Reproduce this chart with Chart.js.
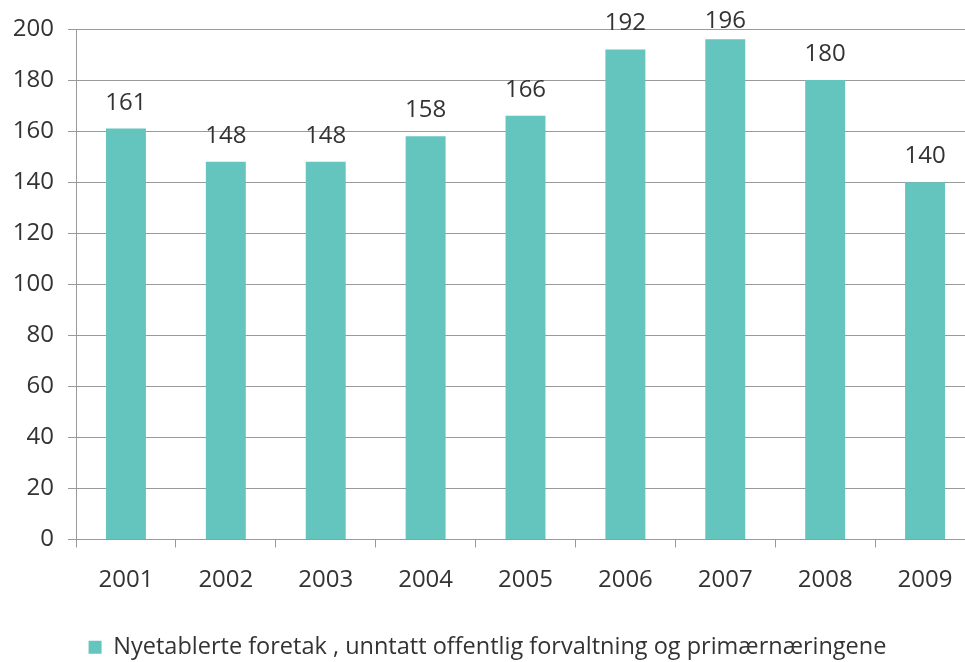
<!DOCTYPE html>
<html>
<head>
<meta charset="utf-8">
<script src="https://cdn.jsdelivr.net/npm/chart.js@4/dist/chart.umd.min.js"></script>
<style>
html,body{margin:0;padding:0;overflow:hidden;background:#fff;}
#wrap{width:975px;height:662px;position:relative;}
</style>
</head>
<body>
<div id="wrap"><canvas id="c" width="975" height="662"></canvas></div>
<script>
const categories = ["2001","2002","2003","2004","2005","2006","2007","2008","2009"];
const seriesName = "Nyetablerte foretak , unntatt offentlig forvaltning og primærnæringene";
const values = [161,148,148,158,166,192,196,180,140];
const yTicks = [0,20,40,60,80,100,120,140,160,180,200];

const FONT = "'Open Sans', sans-serif";
const TXT = "#333333";
const BAR = "#64C5BE";
const GRID = "#9a9a9a";

const labelPlugin = {
  id: 'barLabels',
  afterDatasetsDraw(chart) {
    const ctx = chart.ctx;
    const meta = chart.getDatasetMeta(0);
    ctx.save();
    ctx.font = "24px " + FONT;
    ctx.fillStyle = TXT;
    ctx.textAlign = 'center';
    ctx.textBaseline = 'alphabetic';
    const minBase = chart.chartArea.top - 1;
    meta.data.forEach((bar, i) => {
      let base = Math.max(bar.y - 19, minBase);
      ctx.fillText(String(values[i]), bar.x, base);
    });
    ctx.restore();
  }
};

new Chart(document.getElementById('c'), {
  type: 'bar',
  data: {
    labels: categories,
    datasets: [{
      label: seriesName,
      data: values,
      backgroundColor: BAR,
      borderWidth: 0,
      barPercentage: 1,
      categoryPercentage: 0.4
    }]
  },
  options: {
    responsive: false,
    animation: false,
    devicePixelRatio: 1,
    layout: { padding: { top: 29, right: 0, left: 0, bottom: -7 } },
    plugins: {
      tooltip: { enabled: false },
      legend: {
        position: 'bottom',
        labels: {
          font: { size: 23.5, family: FONT },
          color: TXT,
          boxWidth: 13,
          boxHeight: 13,
          padding: 3
        }
      }
    },
    scales: {
      x: {
        grid: {
          display: true,
          drawOnChartArea: false,
          drawTicks: true,
          tickLength: 8,
          color: GRID,
          offset: true
        },
        border: { display: true, color: GRID, width: 1 },
        ticks: { font: { size: 24, family: FONT }, color: TXT, padding: 18 },
        afterFit(scale) { scale.height = 93; }
      },
      y: {
        min: 0, max: 200,
        afterBuildTicks(scale) { scale.ticks = yTicks.map(v => ({ value: v })); },
        grid: { color: GRID, tickLength: 8, lineWidth: 1 },
        border: { display: true, color: GRID, width: 1 },
        ticks: { font: { size: 24, family: FONT }, color: TXT, padding: 14 },
        afterFit(scale) { scale.width = 76; }
      }
    }
  },
  plugins: [labelPlugin]
});
</script>
</body>
</html>
